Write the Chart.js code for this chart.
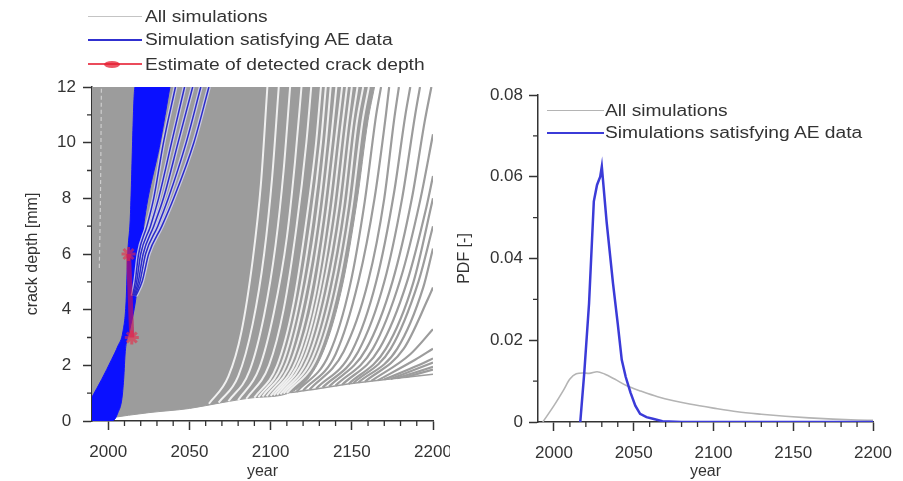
<!DOCTYPE html>
<html>
<head>
<meta charset="utf-8">
<script src="https://cdn.jsdelivr.net/npm/chart.js@4.4.1/dist/chart.umd.min.js"></script>
<style>
  html, body { margin: 0; padding: 0; background: #fff; }
  body { width: 903px; height: 481px; position: relative; overflow: hidden;
         font-family: "Liberation Sans", Arial, sans-serif; color: #333; }
  .panel { position: absolute; top: 0; height: 481px; }
  #leftPanel { left: 0; width: 450px; }
  #rightPanel { left: 450px; width: 453px; }
  .key { position: absolute; height: 0; }
  .txt { position: absolute; font-size: 16px; line-height: 16px; white-space: nowrap;
         transform-origin: 0 50%; transform: scaleX(1.2); }
  .dot { position: absolute; width: 16px; height: 7px; border-radius: 50%; background: rgba(230,30,50,0.75); }
</style>
</head>
<body>
<div class="panel" id="leftPanel"><canvas id="depthChart"></canvas></div>
<div class="panel" id="rightPanel"><canvas id="pdfChart"></canvas></div>

<!-- legend, left panel -->
<div class="key" style="left:88px;top:16px;width:54px;border-top:1.5px solid #c4c4c4"></div>
<div class="txt" style="left:145px;top:9px">All simulations</div>
<div class="key" style="left:88px;top:39px;width:54px;border-top:2px solid #3030d0"></div>
<div class="txt" style="left:145px;top:32px">Simulation satisfying AE data</div>
<div class="key" style="left:88px;top:63px;width:54px;border-top:2.5px solid rgba(230,30,50,0.8)"></div>
<div class="dot" style="left:104px;top:61px"></div>
<div class="txt" style="left:145px;top:57px">Estimate of detected crack depth</div>

<!-- legend, right panel -->
<div class="key" style="left:547px;top:110px;width:57px;border-top:1.5px solid #b4b4b4"></div>
<div class="txt" style="left:605px;top:103px">All simulations</div>
<div class="key" style="left:547px;top:132px;width:57px;border-top:2px solid #3b3bd8"></div>
<div class="txt" style="left:605px;top:125px">Simulations satisfying AE data</div>

<script>
// ---------- axes ----------
const yearTicks = [2000, 2050, 2100, 2150, 2200];
const yearMinorTicks = [2010, 2020, 2030, 2040, 2060, 2070, 2080, 2090,
                        2110, 2120, 2130, 2140, 2160, 2170, 2180, 2190];
const depthTicks = [0, 2, 4, 6, 8, 10, 12];
const depthMinorTicks = [1, 3, 5, 7, 9, 11];
const pdfTicks = [0, 0.02, 0.04, 0.06, 0.08];
const pdfMinorTicks = [0.01, 0.03, 0.05, 0.07];

// ---------- left panel: crack depth ----------
// lower edge of the dense grey mass of simulations (everything above it is grey)
const denseEdge = [[1990, 0], [2000, 0.1], [2025, 0.3], [2050, 0.45], [2070, 0.66], [2090, 0.84],
                   [2112, 1.02], [2131, 2.3], [2144, 4.8], [2153, 7.8], [2160, 10.8], [2164, 12]];
// slowest simulation (bottom of the grey mass on the right)
const floorCurve = [[2112, 1.02], [2125, 1.12], [2150, 1.35], [2175, 1.52], [2200, 1.68]];
// faint streak near the left axis
const leftStreak = [[1994.5, 5.5], [1995.2, 8], [1995.8, 12]];
// thin gaps between simulations inside the grey mass
const gapCurves = [
  [[2062, 0.62], [2074, 1.6], [2082, 3.2], [2089, 5.8], [2094, 8.5], [2098, 12]],
  [[2068, 0.66], [2080, 1.6], [2089, 3.5], [2096, 6], [2101, 8.8], [2105, 12]],
  [[2074, 0.71], [2087, 1.8], [2096, 3.8], [2103, 6.3], [2108, 9], [2112, 12]],
  [[2080, 0.75], [2093, 1.9], [2102, 3.9], [2110, 6.6], [2115, 9.3], [2119, 12]],
  [[2085, 0.8], [2099, 2], [2108, 4], [2116, 7], [2122, 10], [2125, 12]],
  [[2090, 0.84], [2104, 2], [2114, 4.2], [2122, 7.2], [2128, 10], [2131, 12]],
  [[2092.5, 0.86], [2107, 2.05], [2117, 4.25], [2125, 7.1], [2131, 10], [2134, 12]],
  [[2095, 0.88], [2110, 2.1], [2120, 4.3], [2128, 7], [2134, 10], [2137, 12]],
  [[2097.5, 0.89], [2113, 2.15], [2123.5, 4.4], [2131.5, 7.25], [2137.5, 10.25], [2140.5, 12]],
  [[2100, 0.9], [2116, 2.2], [2127, 4.5], [2135, 7.5], [2141, 10.5], [2144, 12]],
  [[2102, 0.92], [2118.5, 2.25], [2129.5, 4.55], [2138, 7.55], [2144, 10.55], [2147, 12]],
  [[2104, 0.94], [2121, 2.3], [2132, 4.6], [2141, 7.6], [2147, 10.6], [2150, 12]],
  [[2106, 0.96], [2123.5, 2.3], [2135, 4.65], [2144, 7.65], [2150, 10.65], [2153.5, 12]],
  [[2108, 0.98], [2126, 2.3], [2138, 4.7], [2147, 7.7], [2153, 10.7], [2157, 12]],
  [[2110, 1.0], [2128.5, 2.3], [2141, 4.75], [2150, 7.75], [2156.5, 10.75], [2160.5, 12]]
];
// individual slow simulations to the right of the grey mass
const slowCurves = [
  [[2116, 1.05], [2136, 2.4], [2149, 4.9], [2158, 7.9], [2165, 11], [2168, 12]],
  [[2120, 1.09], [2140, 2.4], [2154, 5], [2164, 8], [2171, 11], [2173, 12]],
  [[2124, 1.13], [2145, 2.5], [2160, 5], [2170, 8], [2176, 10.8], [2179, 12]],
  [[2128, 1.16], [2150, 2.5], [2165, 5], [2176, 8.2], [2183, 11], [2186, 12]],
  [[2132, 1.2], [2154, 2.5], [2170, 5], [2181, 8], [2189, 11], [2192, 12]],
  [[2136, 1.24], [2159, 2.6], [2175, 5], [2187, 8], [2195, 10.8], [2199, 12]],
  [[2140, 1.27], [2163, 2.6], [2180, 5.1], [2192, 7.9], [2200, 10.3]],
  [[2144, 1.3], [2167, 2.6], [2184, 5], [2196, 7.7], [2200, 8.8]],
  [[2148, 1.33], [2171, 2.6], [2188, 5], [2200, 8]],
  [[2151, 1.36], [2174, 2.6], [2191, 5], [2200, 7]],
  [[2154, 1.38], [2178, 2.6], [2194, 4.8], [2200, 6.2]],
  [[2158, 1.41], [2182, 2.6], [2197, 4.4], [2200, 4.8]],
  [[2162, 1.44], [2186, 2.4], [2200, 3.3]],
  [[2166, 1.46], [2189, 2.2], [2200, 2.6]],
  [[2170, 1.49], [2191, 2.0], [2200, 2.25]],
  [[2174, 1.51], [2200, 2.1]],
  [[2178, 1.54], [2200, 1.95]],
  [[2183, 1.57], [2200, 1.85]]
];
// band of simulations satisfying AE data
const blueBandLeft = [[1990, 0.86], [1996, 1.5], [2002, 2.2], [2006, 2.7], [2009, 3.2], [2011, 4.3],
                      [2012, 6], [2013.5, 7.2], [2016.5, 12], [2038, 12]];
const blueBandRight = [[1990, 0], [2003, 0.02], [2006, 0.3], [2008.4, 0.8], [2009.5, 1.5], [2010.5, 2.5],
                       [2013, 3.2], [2017, 4.4], [2020, 6], [2022.5, 7.3], [2032, 10], [2038, 12]];
const blueStrands = [
  [[2015, 4.5], [2016.6, 5], [2018.7, 6], [2023.8, 7], [2028, 8], [2034, 10], [2041.4, 12]],
  [[2015.5, 4.5], [2017.5, 5], [2020, 6], [2026, 7], [2031, 8], [2039, 10], [2047, 12]],
  [[2016, 4.5], [2018.5, 5], [2021.5, 6], [2028, 7], [2034, 8], [2043, 10], [2052, 12]],
  [[2016.5, 4.5], [2019.5, 5], [2023, 6], [2030.5, 7], [2037, 8], [2048, 10], [2057, 12]],
  [[2017, 4.5], [2020.8, 5], [2024.9, 6], [2033, 7], [2040.3, 8], [2052.7, 10], [2062, 12]]
];
// detected crack depth estimate
const estimateYears = [2014.5, 2012.5];
const estimateDepths = [3, 6];

// ---------- right panel: PDF ----------
const allPdfYears = [1993, 2000, 2006, 2010, 2014, 2018, 2022, 2027, 2032, 2038, 2046, 2055, 2065,
                     2075, 2085, 2100, 2115, 2130, 2145, 2160, 2175, 2190, 2200];
const allPdfValues = [0, 0.004, 0.0078, 0.0105, 0.0118, 0.012, 0.0119, 0.0123, 0.0117, 0.0105, 0.0088,
                      0.0075, 0.0062, 0.0052, 0.0044, 0.0034, 0.0025, 0.0019, 0.0014, 0.001, 0.0007,
                      0.0005, 0.0004];
const aePdfYears = [2016.5, 2019, 2022, 2025, 2027, 2029, 2030, 2031, 2033, 2037, 2040, 2042.5, 2045,
                    2048, 2051, 2054, 2058, 2062, 2068, 2080, 2200];
const aePdfValues = [0, 0.012, 0.029, 0.054, 0.058, 0.06, 0.0625, 0.058, 0.049, 0.034, 0.024, 0.0152,
                     0.011, 0.0072, 0.004, 0.002, 0.0012, 0.0008, 0.0002, 0, 0];

// ---------- styling ----------
Chart.defaults.font.family = '"Liberation Sans", Arial, sans-serif';
Chart.defaults.font.size = 17;
Chart.defaults.color = '#333';
const AXIS = '#333';
const GREY = '#9c9c9c';

const minorTicks = {
  id: 'minorTicks',
  afterDraw(chart, args, opts) {
    const { ctx } = chart;
    const x = chart.scales.x, y = chart.scales.y;
    ctx.save();
    ctx.strokeStyle = AXIS;
    ctx.lineWidth = 1.3;
    ctx.beginPath();
    opts.x.forEach(v => {
      const px = x.getPixelForValue(v);
      ctx.moveTo(px, x.top); ctx.lineTo(px, x.top + 5);
    });
    opts.y.forEach(v => {
      const py = y.getPixelForValue(v);
      ctx.moveTo(y.right, py); ctx.lineTo(y.right - 5, py);
    });
    ctx.stroke();
    ctx.restore();
  }
};

function axis(min, max, ticks, title, size, tickOpts, titlePad) {
  return {
    type: 'linear', min, max,
    afterBuildTicks: s => { s.ticks = ticks.map(v => ({ value: v })); },
    afterFit: s => {
      if (size.w) s.width = size.w;
      if (size.h) { s.height = size.h; s.paddingLeft = 0; s.paddingRight = 0; }
    },
    border: { display: true, color: AXIS, width: 1.5 },
    grid: { drawOnChartArea: false, drawTicks: true, tickLength: 9, tickColor: AXIS, tickWidth: 1.5 },
    ticks: Object.assign({ autoSkip: false, maxRotation: 0, callback: v => String(v) }, tickOpts),
    title: { display: true, text: title, font: { size: 16 }, padding: titlePad }
  };
}

function curve(points, color, width, order, extra) {
  return Object.assign({
    data: points.map(([x, y]) => ({ x, y })),
    borderColor: color, borderWidth: width, pointRadius: 0, fill: false,
    cubicInterpolationMode: 'monotone', order
  }, extra || {});
}

const common = {
  animation: false, responsive: true, maintainAspectRatio: false, events: [],
  plugins: { legend: { display: false }, tooltip: { enabled: false } }
};

// ---------- left chart ----------
const depthSets = [];
depthSets.push(curve(denseEdge, GREY, 1, 20, { fill: 'end', backgroundColor: GREY }));
depthSets.push(curve(floorCurve, GREY, 1.5, 19));
depthSets.push(curve(leftStreak, 'rgba(255,255,255,0.5)', 1.2, 18, { borderDash: [4, 3] }));
gapCurves.forEach(c => depthSets.push(curve(c, 'rgba(255,255,255,0.85)', 2, 18)));
slowCurves.forEach(c => depthSets.push(curve(c, GREY, 2.2, 17)));
depthSets.push(curve(blueBandLeft, '#1010ff', 1, 10, { fill: '+1', backgroundColor: '#0a10ff' }));
depthSets.push(curve(blueBandRight, '#1010ff', 1, 9));
blueStrands.forEach(c => depthSets.push(curve(c, 'rgba(205,205,235,0.9)', 4, 8)));
blueStrands.forEach(c => depthSets.push(curve(c, '#2b2bc8', 1.5, 7)));
depthSets.push({
  data: estimateYears.map((x, i) => ({ x, y: estimateDepths[i] })),
  borderColor: 'rgba(200,20,90,0.65)', borderWidth: 5, fill: false, order: 1,
  pointStyle: 'star', pointRadius: 7, pointBorderWidth: 3,
  pointBorderColor: 'rgba(235,40,70,0.6)', pointBackgroundColor: 'rgba(235,40,70,0.6)'
});

new Chart(document.getElementById('depthChart'), {
  type: 'line',
  data: { datasets: depthSets },
  options: Object.assign({}, common, {
    layout: { padding: { left: 18, top: 87, right: 17, bottom: 0 } },
    scales: {
      x: axis(1990, 2200, yearTicks, 'year', { h: 60 }, { padding: 12 }, { top: 0, bottom: 0 }),
      y: axis(0, 12, depthTicks, 'crack depth [mm]', { w: 74 }, { padding: 7, crossAlign: 'center' }, { top: 5, bottom: 0 })
    },
    plugins: Object.assign({}, common.plugins, { minorTicks: { x: yearMinorTicks, y: depthMinorTicks } })
  }),
  plugins: [minorTicks]
});

// ---------- right chart ----------
new Chart(document.getElementById('pdfChart'), {
  type: 'line',
  data: {
    datasets: [
      {
        data: allPdfYears.map((x, i) => ({ x, y: allPdfValues[i] })),
        borderColor: '#b4b4b4', borderWidth: 1.6, pointRadius: 0, fill: false,
        cubicInterpolationMode: 'monotone', order: 2
      },
      {
        data: aePdfYears.map((x, i) => ({ x, y: aePdfValues[i] })),
        borderColor: '#3b3bd8', borderWidth: 2.5, pointRadius: 0, fill: false, tension: 0, order: 1
      }
    ]
  },
  options: Object.assign({}, common, {
    layout: { padding: { left: 0, top: 95, right: 30, bottom: 0 } },
    scales: {
      x: axis(1990, 2200, yearTicks, 'year', { h: 59 }, { padding: 12 }, { top: 0, bottom: 0 }),
      y: axis(0, 0.08, pdfTicks, 'PDF [-]', { w: 88 }, { padding: 6 }, { top: 5, bottom: 0 })
    },
    plugins: Object.assign({}, common.plugins, { minorTicks: { x: yearMinorTicks, y: pdfMinorTicks } })
  }),
  plugins: [minorTicks]
});
</script>
</body>
</html>
